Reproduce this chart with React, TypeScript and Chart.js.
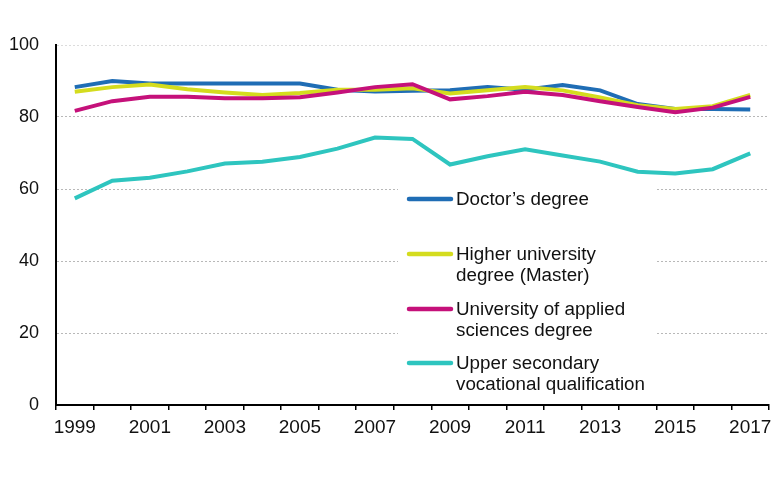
import React, { useEffect, useRef } from "react";
import { Chart, registerables } from "chart.js";

Chart.register(...registerables);

const years = ["1999","2000","2001","2002","2003","2004","2005","2006","2007","2008","2009","2010","2011","2012","2013","2014","2015","2016","2017"];
const doctor = [88.3, 90.0, 89.3, 89.3, 89.3, 89.3, 89.3, 87.6, 87.1, 87.3, 87.4, 88.3, 87.6, 88.9, 87.4, 83.6, 82.2, 82.2, 82.1];
const master = [87.0, 88.3, 89.0, 87.7, 86.8, 86.1, 86.7, 87.6, 87.6, 88.0, 86.5, 87.4, 88.3, 87.4, 85.4, 83.3, 82.2, 83.0, 86.1];
const applied = [81.7, 84.4, 85.6, 85.6, 85.2, 85.2, 85.5, 86.8, 88.3, 89.1, 84.9, 85.8, 87.0, 86.1, 84.4, 82.8, 81.3, 82.6, 85.6];
const vocational = [57.4, 62.3, 63.1, 64.9, 67.1, 67.6, 68.9, 71.2, 74.3, 73.9, 66.8, 69.1, 71.0, 69.3, 67.6, 64.8, 64.3, 65.5, 69.9];
const seriesNames = [
  ["Doctor\u2019s degree"],
  ["Higher university", "degree (Master)"],
  ["University of applied", "sciences degree"],
  ["Upper secondary", "vocational qualification"],
];
const seriesColors = ["#1f6db5", "#d4dc1e", "#c5117a", "#2ec5bf"];
const legendMarkerY = [199, 254, 309, 363];

const FONT = "'Liberation Sans', Arial, sans-serif";

const legendPlugin = {
  id: "insideLegend",
  beforeDatasetsDraw(chart: any) {
    const ctx = chart.ctx;
    ctx.save();
    ctx.fillStyle = "#fff";
    ctx.fillRect(398, 180, 259, 222);
    ctx.restore();
  },
  afterDraw(chart: any) {
    const ctx = chart.ctx;
    ctx.save();
    ctx.font = `18.8px ${FONT}`;
    ctx.textBaseline = "middle";
    ctx.textAlign = "left";
    ctx.fillStyle = "#111";
    seriesNames.forEach((lines, i) => {
      const y = legendMarkerY[i];
      ctx.strokeStyle = seriesColors[i];
      ctx.lineWidth = 4.5;
      ctx.lineCap = "round";
      ctx.beginPath();
      ctx.moveTo(409, y);
      ctx.lineTo(451, y);
      ctx.stroke();
      lines.forEach((t, j) => {
        ctx.fillText(t, 456, y + 1 + j * 21);
      });
    });
    ctx.restore();
  },
};

export default function App() {
  const ref = useRef<HTMLCanvasElement>(null);
  useEffect(() => {
    document.body.style.margin = "0";
    const datasets = [doctor, master, applied, vocational].map((d, i) => ({
      label: seriesNames[i].join(" "),
      data: d,
      borderColor: seriesColors[i],
      backgroundColor: seriesColors[i],
      borderWidth: 4,
      pointRadius: 0,
      tension: 0,
      fill: false,
      order: [3, 2, 1, 0][i],
    }));
    const chart = new Chart(ref.current!, {
      type: "line",
      data: { labels: years, datasets },
      options: {
        animation: false,
        responsive: false,
        maintainAspectRatio: false,
        layout: { padding: { top: 45, right: 11, left: 0, bottom: 0 } },
        plugins: { legend: { display: false }, tooltip: { enabled: false } },
        scales: {
          x: {
            type: "category",
            offset: true,
            afterFit: (s: any) => { s.height = 74; },
            grid: {
              offset: true,
              drawOnChartArea: false,
              drawTicks: true,
              tickLength: 5,
              color: "#000",
              lineWidth: 1.5,
            },
            border: { display: true, color: "#000", width: 2 },
            ticks: {
              autoSkip: false,
              maxRotation: 0,
              padding: 6,
              color: "#111",
              font: { family: FONT, size: 19 },
              callback: (_v: any, i: number) => (i % 2 === 0 ? years[i] : ""),
            },
          },
          y: {
            min: 0,
            max: 100,
            afterFit: (s: any) => { s.width = 56; },
            grid: {
              drawTicks: false,
              color: (c: any) => (c.tick && c.tick.value === 100 ? "#dcdcdc" : c.tick && c.tick.value === 0 ? "rgba(0,0,0,0)" : "#b8b8b8"),
              lineWidth: 1,
            },
            border: { display: true, color: "#000", width: 2, dash: [2, 2] },
            ticks: {
              stepSize: 20,
              padding: 17,
              color: "#111",
              font: { family: FONT, size: 18 },
            },
          },
        },
      },
      plugins: [legendPlugin],
    });
    return () => chart.destroy();
  }, []);
  return (
    <div style={{ width: 780, height: 479 }}>
      <canvas ref={ref} width={780} height={479} style={{ width: 780, height: 479, display: "block" }} />
    </div>
  );
}
